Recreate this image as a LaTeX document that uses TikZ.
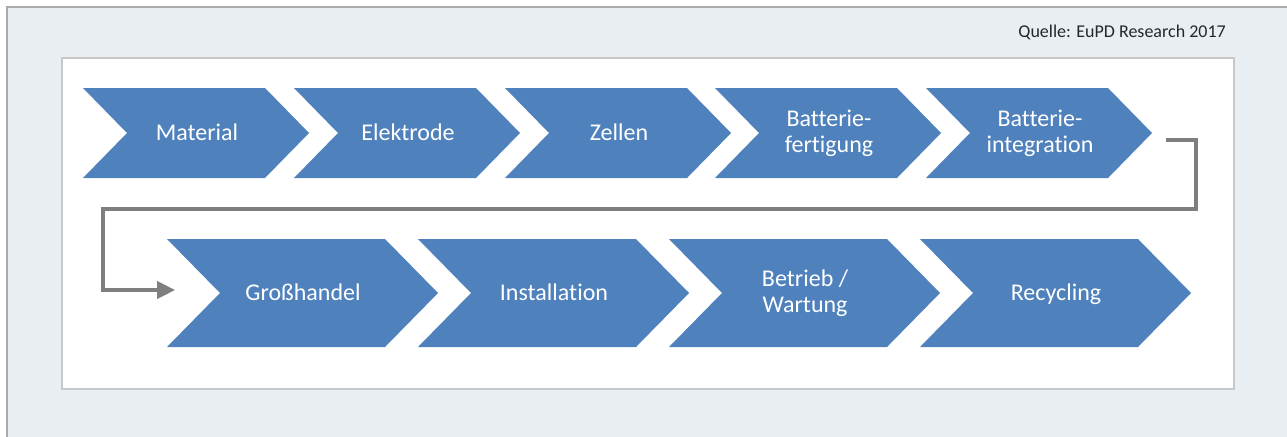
\documentclass[tikz,border=0pt]{standalone}
\usepackage{fontspec}
\setmainfont[Ligatures=NoCommon]{Carlito}
\usetikzlibrary{arrows.meta,calc}
\definecolor{chevblue}{HTML}{4F81BD}
\definecolor{framebg}{HTML}{E9EEF3}
\definecolor{frameline}{HTML}{ABABAB}
\definecolor{innerline}{HTML}{C8C8C8}
\definecolor{connline}{HTML}{7F7F7F}
\definecolor{srctext}{HTML}{262626}
\newcommand\chevshape[5]{% x, ymid, w, h, d
  \fill[chevfill] (#1,#2-#4/2) -- (#1+#3-#5,#2-#4/2) -- (#1+#3,#2) -- (#1+#3-#5,#2+#4/2) -- (#1,#2+#4/2) -- (#1+#5,#2) -- cycle;}
\begin{document}
\begin{tikzpicture}[x=0.75pt,y=-0.75pt,
  chevfill/.style={fill=chevblue},
  chevlabel/.style={text=white,align=center,font=\fontsize{18}{19.5}\selectfont,inner sep=0pt},
  onelabel/.style={chevlabel,anchor=base},
  srclabel/.style={text=srctext,font=\fontsize{13.5}{15}\selectfont,inner sep=0pt},
  conn/.style={draw=connline,line width=2.4pt,-{Triangle[length=13.5pt,width=13pt]}}]
\useasboundingbox (0,0) rectangle (1287,436);
\clip (0,0) rectangle (1287,436);
\fill[white] (0,0) rectangle (1287,436);
\draw[frameline, fill=framebg, line width=1.2pt] (7,7) rectangle (1300,450);
\draw[innerline, fill=white, line width=0.9pt] (62,58) rectangle (1234,389);
\node[srclabel, anchor=base east] (src) at (1226,37) {Quelle: EuPD Research 2017};
% row 1
\chevshape{83}{133}{226}{90}{44}
\chevshape{294}{133}{226}{90}{44}
\chevshape{505}{133}{226}{90}{44}
\chevshape{715}{133}{226}{90}{44}
\chevshape{926}{133}{226}{90}{44}
\node[onelabel] (c1) at (197,140) {Material};
\node[onelabel] (c2) at (408,140) {Elektrode};
\node[onelabel] (c3) at (619,140) {Zellen};
\node[chevlabel] (c4) at (829,133) {Batterie-\\fertigung};
\node[chevlabel] (c5) at (1040,133) {Batterie-\\integration};
% row 2
\chevshape{167}{293}{271}{108}{53}
\chevshape{418}{293}{271}{108}{53}
\chevshape{669}{293}{271}{108}{53}
\chevshape{920}{293}{271}{108}{53}
\node[onelabel] (d1) at (303,300) {Großhandel};
\node[onelabel] (d2) at (554,300) {Installation};
\node[chevlabel] (d3) at (805,293) {Betrieb /\\Wartung};
\node[onelabel] (d4) at (1056,300) {Recycling};
% connector
\coordinate (cstart) at (1166,140);
\coordinate (cend) at (175,290);
\draw[conn] (cstart) -- (1196,140) -- (1196,209) -- (103,209) -- (103,290) -- (cend);
\end{tikzpicture}
\end{document}
